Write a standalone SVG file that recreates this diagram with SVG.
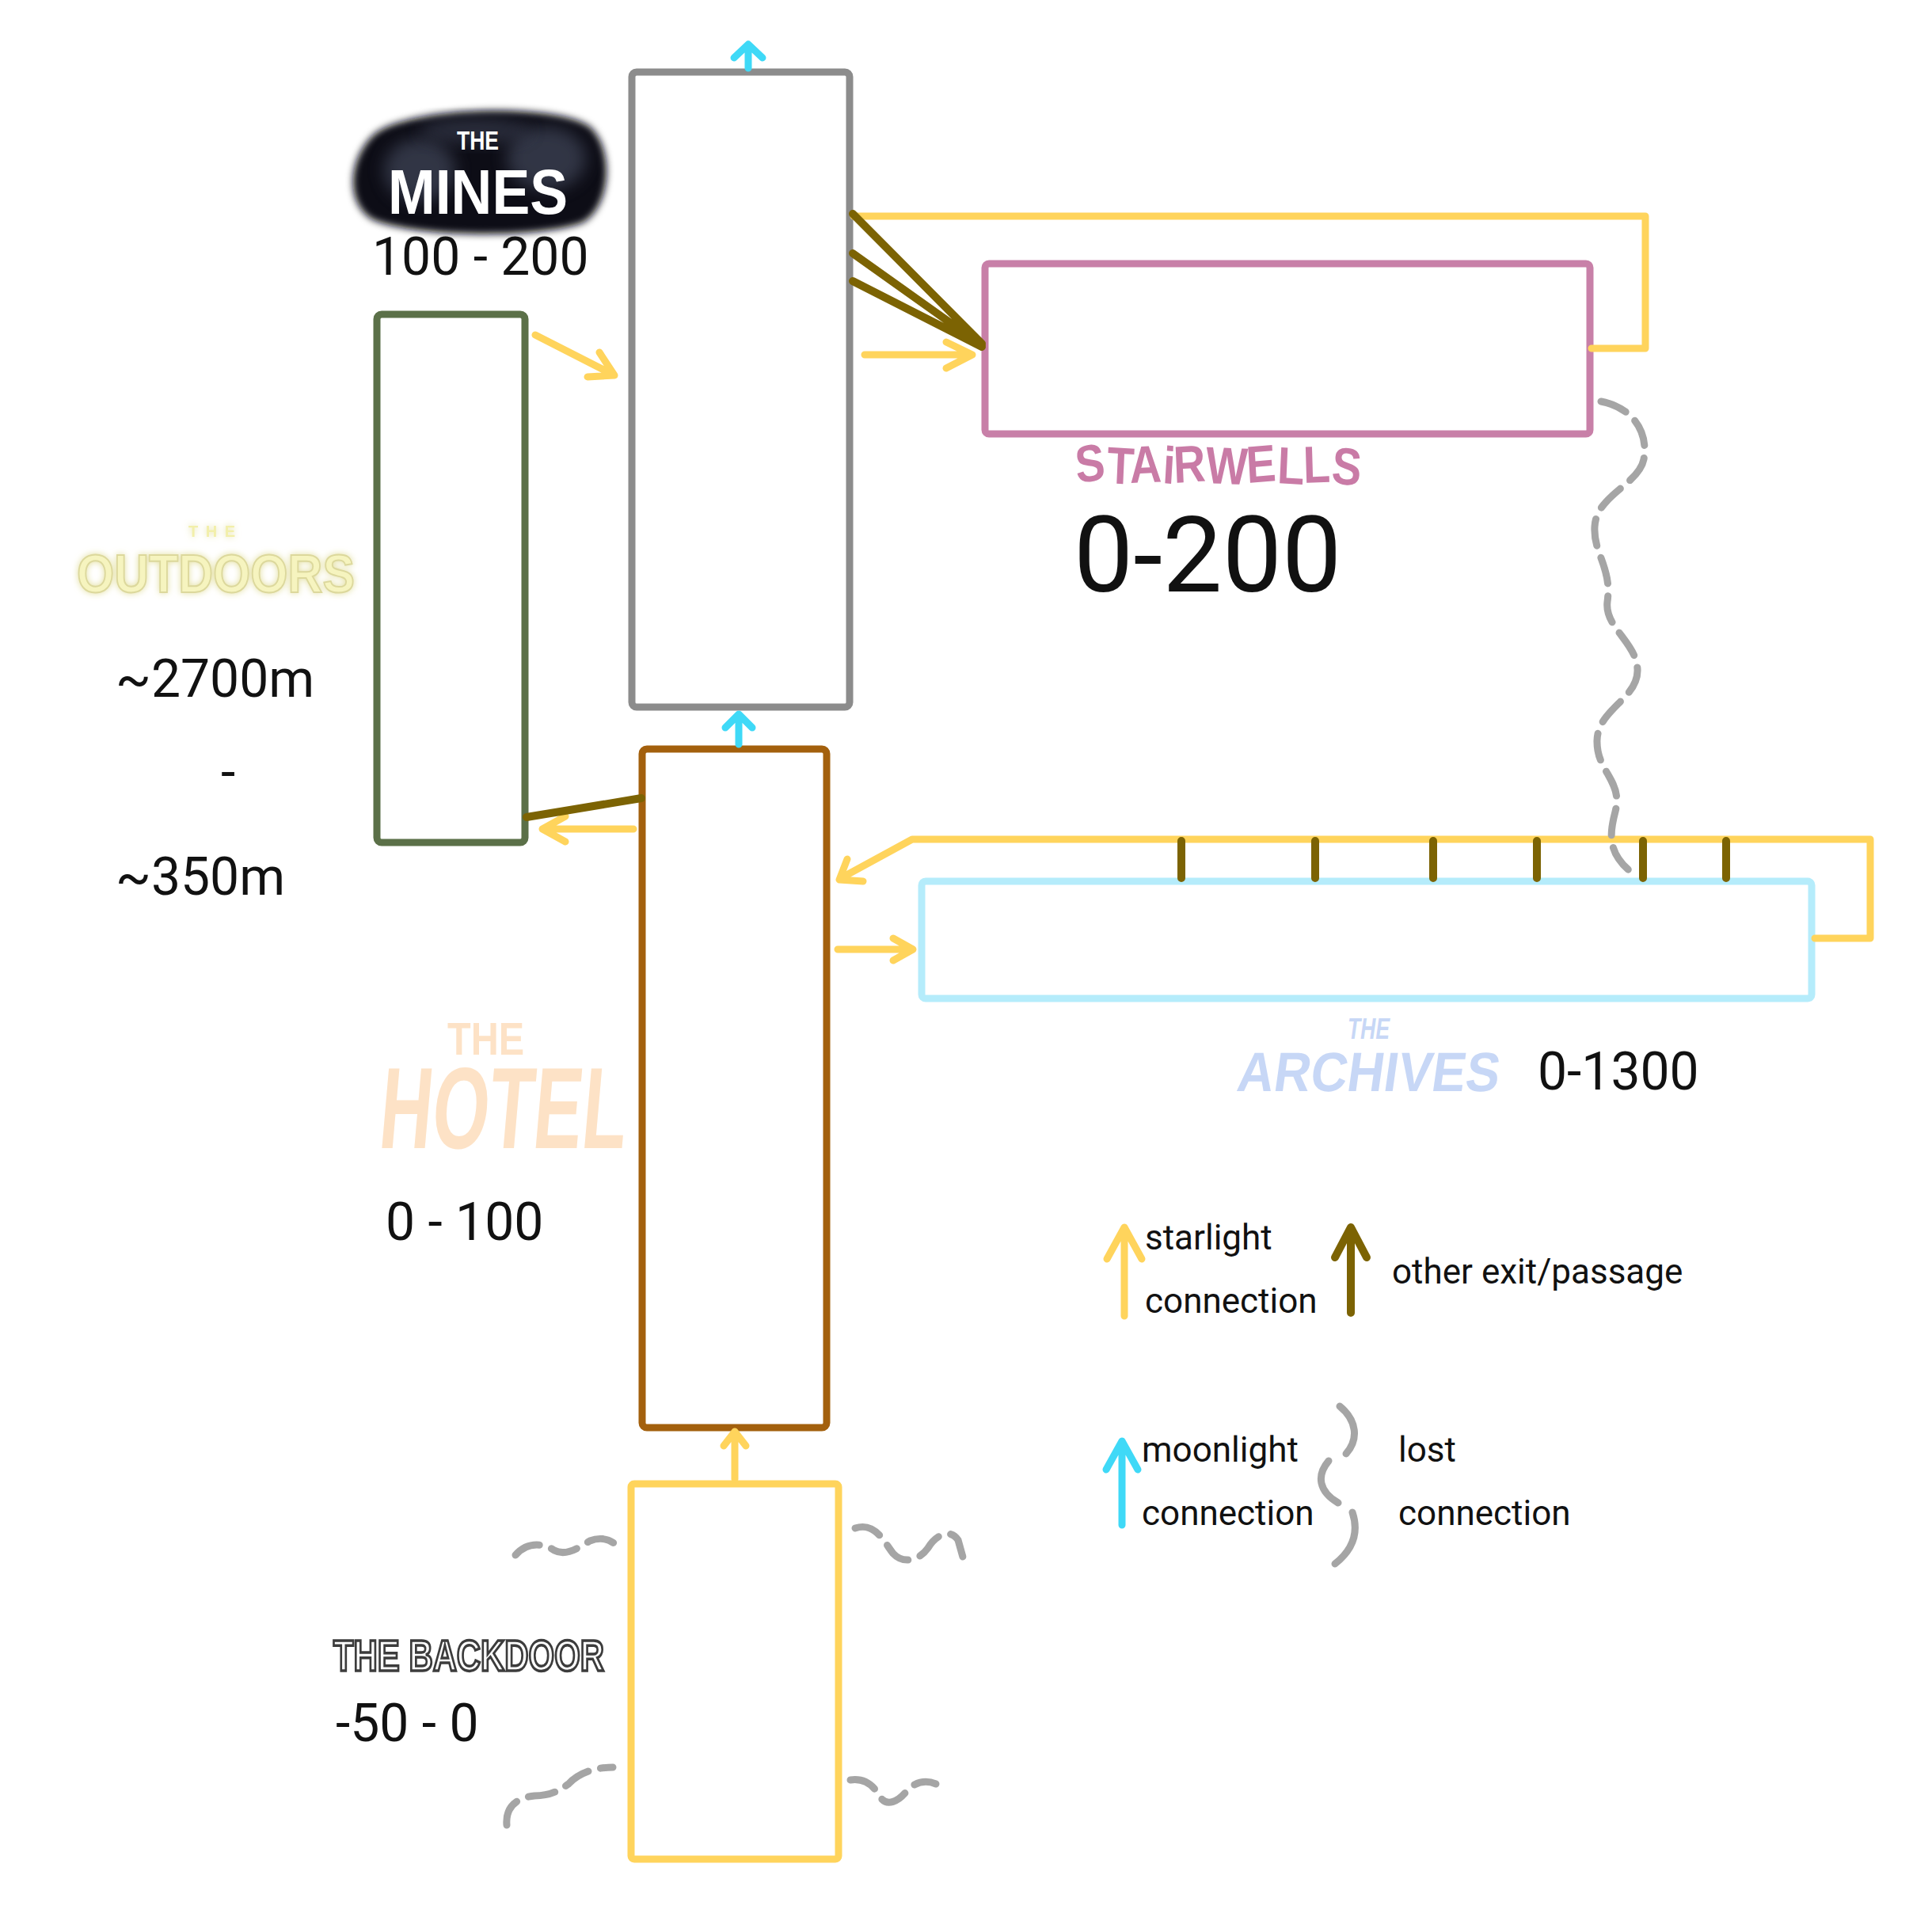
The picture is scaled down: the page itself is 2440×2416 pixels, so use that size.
<svg xmlns="http://www.w3.org/2000/svg" width="2440" height="2416" viewBox="0 0 2440 2416">
<style>
.box{fill:none;stroke-width:9;stroke-linejoin:round}
.y{fill:none;stroke:#ffd45c;stroke-width:9;stroke-linecap:round;stroke-linejoin:round}
.o{fill:none;stroke:#7c6303;stroke-width:10;stroke-linecap:round;stroke-linejoin:round}
.c{fill:none;stroke:#3fd9f7;stroke-width:9;stroke-linecap:round;stroke-linejoin:round}
.w{fill:none;stroke:#a5a5a5;stroke-width:9;stroke-linecap:round;stroke-dasharray:34 16}
.lbl{font-family:Roboto,"Liberation Sans",sans-serif;fill:#111}
.m{font-size:66px}
.lg{font-size:44px}
.logo{font-family:"Liberation Sans",Arial,sans-serif;font-weight:bold}
</style>
<defs>
<filter id="blur" x="-20%" y="-30%" width="140%" height="160%"><feGaussianBlur stdDeviation="5"/></filter>
<filter id="soft" x="-30%" y="-40%" width="160%" height="180%"><feGaussianBlur stdDeviation="10"/></filter>
<filter id="glow" x="-10%" y="-40%" width="120%" height="180%"><feGaussianBlur in="SourceAlpha" stdDeviation="4" result="b"/><feFlood flood-color="#e3df9f"/><feComposite in2="b" operator="in"/><feMerge><feMergeNode/><feMergeNode in="SourceGraphic"/></feMerge></filter>
</defs>
<rect width="2440" height="2416" fill="#fff"/>

<g id="mines">
<rect class="box" x="798" y="91" width="275" height="802" rx="6" stroke="#8c8c8c"/>
<path d="M470,172 C505,135 700,128 745,160 C776,188 772,258 738,280 C690,302 520,300 470,277 C436,256 440,202 470,172 Z" fill="#101114" filter="url(#blur)"/>
<ellipse cx="530" cy="215" rx="45" ry="40" fill="#50576c" opacity="0.55" filter="url(#soft)"/>
<ellipse cx="690" cy="200" rx="50" ry="40" fill="#50576c" opacity="0.55" filter="url(#soft)"/>
<ellipse cx="600" cy="165" rx="70" ry="16" fill="#3c4254" opacity="0.6" filter="url(#soft)"/>
<text class="logo" x="577" y="189" font-size="33" fill="#fff" textLength="53" lengthAdjust="spacingAndGlyphs">THE</text>
<text class="logo" x="490" y="270" font-size="80" fill="#fff" textLength="227" lengthAdjust="spacingAndGlyphs">MINES</text>
<text class="lbl m" x="470" y="347">100 - 200</text>
</g>

<g id="outdoors">
<rect class="box" x="476" y="397" width="187" height="667" rx="6" stroke="#5b7048"/>
<g filter="url(#glow)">
<text class="logo" x="238" y="678" font-size="20" fill="#f2efaa" textLength="59" lengthAdjust="spacing">THE</text>
<text class="logo" x="97" y="748" font-size="68" fill="#f6f4bf" stroke="#dcd89c" stroke-width="2" textLength="351" lengthAdjust="spacingAndGlyphs">OUTDOORS</text>
</g>
<text class="lbl m" x="146" y="880">~2700m</text>
<text class="lbl m" x="279" y="998">-</text>
<text class="lbl m" x="146" y="1130">~350m</text>
</g>

<g id="hotel">
<rect class="box" x="811" y="946" width="233" height="857" rx="6" stroke="#a3600d"/>
<text class="logo" x="565" y="1332" font-size="58" fill="#fde2c6" textLength="97" lengthAdjust="spacingAndGlyphs">THE</text>
<text class="logo" x="475" y="1450" font-size="146" fill="#fde2c6" textLength="312" lengthAdjust="spacingAndGlyphs" transform="skewX(-5) translate(128 0)">HOTEL</text>
<text class="lbl m" x="487" y="1566">0 - 100</text>
</g>

<g id="backdoor">
<rect class="box" x="797" y="1874" width="262" height="474" rx="4" stroke="#ffd45c"/>
<text class="logo" x="421" y="2110" font-size="55" fill="#fff" stroke="#3c3c3c" stroke-width="3.5" textLength="342" lengthAdjust="spacingAndGlyphs">THE BACKDOOR</text>
<text class="lbl m" x="424" y="2199">-50 - 0</text>
</g>

<g id="stairwells">
<rect class="box" x="1244" y="333" width="764" height="215" rx="5" stroke="#c880a8"/>
<text class="logo" x="1360" y="610" font-size="66" fill="#c97ba6" textLength="358" lengthAdjust="spacingAndGlyphs" rotate="-6 3 -2 4 -3 2 -4 3 -2 5">STAiRWELLS</text>
<text class="lbl" x="1356" y="747" font-size="134">0-200</text>
</g>

<g id="archives">
<rect class="box" x="1164" y="1113" width="1124" height="148" rx="5" stroke="#b5ecfb" stroke-width="10"/>
<text class="logo" fill="#c7d7f6" transform="translate(194 0) skewX(-8)"><tspan x="1691" y="1312" font-size="38" textLength="53" lengthAdjust="spacingAndGlyphs">THE</tspan><tspan x="1560" y="1378" font-size="70" textLength="331" lengthAdjust="spacingAndGlyphs">ARCHIVES</tspan></text>
<text class="lbl m" x="1942" y="1376">0-1300</text>
</g>

<g id="connectors">
<path class="c" d="M945,86 L945,58 M927,73 L945,56 L963,73"/>
<path class="c" d="M933,940 L933,903 M916,919 L933,902 L950,919"/>
<path class="y" d="M928,1868 L928,1808 M914,1826 L928,1808 L942,1826"/>
<path class="y" d="M676,423 L774,473 M757,445 L776,474 L742,476"/>
<path class="y" d="M800,1047 L686,1047 M714,1031 L685,1047 L714,1063"/>
<path class="y" d="M1092,448 L1226,448 M1195,432 L1228,448 L1195,465"/>
<path class="y" d="M1058,1199 L1150,1199 M1128,1185 L1153,1199 L1128,1213"/>
<path class="y" d="M2292,1185 L2362,1185 L2362,1060 L1152,1060 L1062,1109 M1070,1085 L1060,1111 L1090,1113"/>
<path class="y" d="M1078,273 L2078,273 L2078,440 L2010,440"/>
<path class="o" d="M810,1008 L665,1032"/>
<path class="o" stroke-width="12" d="M1077,270 L1240,434 M1077,320 L1240,436 M1077,355 L1240,438"/>
<path class="o" stroke-linecap="butt" d="M1492,1062 V1109 M1661,1062 V1109 M1810,1062 V1109 M1941,1062 V1109 M2075,1062 V1109 M2180,1062 V1109"/>
<path class="w" d="M2022,507 C2062,515 2082,545 2076,580 C2070,612 2016,625 2014,665 C2012,700 2036,715 2030,760 C2026,792 2066,810 2068,845 C2070,882 2018,895 2017,935 C2016,975 2050,985 2040,1025 C2032,1055 2030,1080 2066,1106"/>
<path class="w" d="M651,1964 C665,1948 685,1948 700,1958 C715,1966 730,1955 745,1946 C760,1940 775,1945 782,1956"/>
<path class="w" d="M1080,1930 C1105,1922 1115,1945 1128,1962 C1140,1975 1160,1972 1172,1955 C1182,1938 1200,1930 1210,1945 L1217,1970"/>
<path class="w" d="M640,2305 C638,2280 655,2270 675,2268 C695,2268 705,2262 718,2253 C730,2240 750,2232 774,2232"/>
<path class="w" d="M1074,2248 C1095,2245 1105,2258 1112,2270 C1120,2282 1135,2275 1145,2262 C1155,2250 1170,2248 1182,2253"/>
</g>

<g id="legend">
<path class="y" d="M1420,1662 L1420,1552 M1398,1590 L1420,1550 L1442,1590"/>
<text class="lbl lg" x="1446" y="1578">starlight</text>
<text class="lbl lg" x="1446" y="1658">connection</text>
<path class="o" d="M1706,1658 L1706,1552 M1686,1588 L1706,1550 L1726,1588"/>
<text class="lbl lg" x="1758" y="1621">other exit/passage</text>
<path class="c" d="M1417,1926 L1417,1824 M1397,1856 L1417,1820 L1437,1856"/>
<text class="lbl lg" x="1442" y="1846">moonlight</text>
<text class="lbl lg" x="1442" y="1926">connection</text>
<path fill="none" stroke="#a5a5a5" stroke-width="9" stroke-linecap="round" d="M1692,1776 C1714,1794 1716,1818 1700,1836 M1678,1845 C1662,1864 1666,1884 1690,1898 M1708,1910 C1716,1934 1710,1956 1686,1975"/>
<text class="lbl lg" x="1766" y="1846">lost</text>
<text class="lbl lg" x="1766" y="1926">connection</text>
</g>
</svg>
